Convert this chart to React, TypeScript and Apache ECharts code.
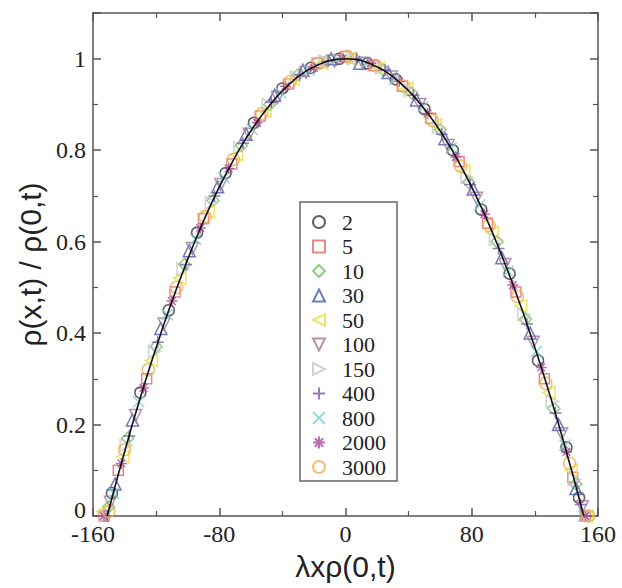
import React, { useEffect, useRef } from "react";
import * as echarts from "echarts";

// Fitted master curve (black line)
const curveX = [-151, -150, -145, -140, -135, -130, -125, -120, -115, -110, -105, -100, -95, -90, -85, -80, -75, -70, -65, -60, -55, -50, -45, -40, -35, -30, -25, -20, -15, -10, -5, 0, 5, 10, 15, 20, 25, 30, 35, 40, 45, 50, 55, 60, 65, 70, 75, 80, 85, 90, 95, 100, 105, 110, 115, 120, 125, 130, 135, 140, 145, 150, 151];
const curveY = [0, 0.013, 0.078, 0.14, 0.201, 0.259, 0.315, 0.368, 0.42, 0.469, 0.516, 0.561, 0.604, 0.645, 0.683, 0.719, 0.753, 0.785, 0.815, 0.842, 0.867, 0.89, 0.911, 0.93, 0.946, 0.961, 0.973, 0.982, 0.99, 0.996, 0.999, 1, 0.999, 0.996, 0.99, 0.982, 0.973, 0.961, 0.946, 0.93, 0.911, 0.89, 0.867, 0.842, 0.815, 0.785, 0.753, 0.719, 0.683, 0.645, 0.604, 0.561, 0.516, 0.469, 0.42, 0.368, 0.315, 0.259, 0.201, 0.14, 0.078, 0.013, 0];

const names = ["2", "5", "10", "30", "50", "100", "150", "400", "800", "2000", "3000"];

const x2 = [-148, -130, -112, -94, -76, -58, -40, -22, -4, 14, 32, 50, 68, 86, 104, 122, 140, 148];
const y2 = [0.05, 0.27, 0.45, 0.62, 0.75, 0.86, 0.935, 0.98, 1.0, 0.99, 0.955, 0.89, 0.8, 0.67, 0.53, 0.34, 0.15, 0.04];
const x5 = [-153, -144, -126, -108, -90, -72, -54, -36, -18, 0, 18, 36, 54, 72, 90, 108, 126, 144, 152];
const y5 = [0.0, 0.1, 0.3, 0.49, 0.65, 0.77, 0.875, 0.945, 0.99, 1.005, 0.985, 0.94, 0.87, 0.775, 0.64, 0.49, 0.3, 0.085, 0.0];
const x10 = [-150, -138, -120, -102, -84, -66, -48, -30, -12, 6, 24, 42, 60, 78, 96, 114, 132, 146];
const y10 = [0.02, 0.17, 0.37, 0.55, 0.69, 0.81, 0.9, 0.965, 0.995, 1.0, 0.975, 0.925, 0.845, 0.73, 0.6, 0.43, 0.235, 0.07];
const x30 = [-146, -135, -117, -99, -81, -63, -45, -27, -9, 9, 27, 45, 63, 81, 99, 117, 135, 146];
const y30 = [0.07, 0.21, 0.41, 0.58, 0.72, 0.835, 0.92, 0.975, 1.0, 0.99, 0.97, 0.91, 0.825, 0.715, 0.565, 0.4, 0.2, 0.06];
const x50 = [-154, -141, -123, -105, -87, -69, -51, -33, -15, 3, 21, 39, 57, 75, 93, 111, 129, 143, 153];
const y50 = [0.01, 0.13, 0.34, 0.52, 0.665, 0.79, 0.885, 0.955, 0.99, 1.0, 0.98, 0.935, 0.855, 0.755, 0.62, 0.46, 0.27, 0.1, 0.0];
const x100 = [-149, -133, -115, -97, -79, -61, -43, -25, -7, 11, 29, 47, 65, 83, 101, 119, 137, 150];
const y100 = [0.03, 0.22, 0.42, 0.585, 0.725, 0.835, 0.915, 0.97, 0.995, 0.99, 0.96, 0.9, 0.81, 0.695, 0.55, 0.38, 0.18, 0.02];
const x150 = [-152, -139, -121, -103, -85, -67, -49, -31, -13, 5, 23, 41, 59, 77, 95, 113, 131, 145];
const y150 = [0.0, 0.155, 0.36, 0.54, 0.685, 0.805, 0.9, 0.96, 0.995, 1.0, 0.98, 0.93, 0.85, 0.74, 0.605, 0.44, 0.25, 0.08];
const x400 = [-151, -137, -119, -101, -83, -65, -47, -29, -11, 7, 25, 43, 61, 79, 97, 115, 133, 149];
const y400 = [0.0, 0.175, 0.38, 0.55, 0.7, 0.815, 0.905, 0.965, 0.995, 1.0, 0.975, 0.92, 0.835, 0.725, 0.585, 0.42, 0.225, 0.025];
const x800 = [-147, -131, -113, -95, -77, -59, -41, -23, -5, 13, 31, 49, 67, 85, 103, 121, 139, 151];
const y800 = [0.05, 0.25, 0.44, 0.605, 0.74, 0.845, 0.925, 0.975, 1.0, 0.99, 0.955, 0.895, 0.805, 0.68, 0.535, 0.36, 0.155, 0.0];
const x2000 = [-153, -142, -128, -110, -92, -74, -56, -38, -20, -2, 16, 34, 52, 70, 88, 106, 124, 140, 152];
const y2000 = [0.0, 0.115, 0.28, 0.47, 0.63, 0.76, 0.86, 0.94, 0.98, 1.0, 0.99, 0.95, 0.88, 0.785, 0.66, 0.505, 0.325, 0.14, 0.0];
const x3000 = [-150, -140, -125, -107, -89, -71, -53, -35, -17, 1, 19, 37, 55, 73, 91, 109, 127, 142, 154];
const y3000 = [0.01, 0.145, 0.32, 0.5, 0.655, 0.78, 0.88, 0.95, 0.99, 1.005, 0.985, 0.94, 0.865, 0.765, 0.635, 0.48, 0.29, 0.115, 0.0];

const seriesX = [x2, x5, x10, x30, x50, x100, x150, x400, x800, x2000, x3000];
const seriesY = [y2, y5, y10, y30, y50, y100, y150, y400, y800, y2000, y3000];

const colors = ["#3a3a3a", "#e06a6a", "#6cc45a", "#4a58b0", "#e6e040", "#a07890", "#c4c4cc", "#7a5aa8", "#7cd0d4", "#a84a98", "#f0b050"];
const symbols = [
  "circle",
  "rect",
  "diamond",
  "triangle",
  "path://M0,5L10,0L10,10Z",
  "path://M0,0L10,0L5,10Z",
  "path://M0,0L10,5L0,10Z",
  "path://M5,0L5,10M0,5L10,5",
  "path://M1,1L9,9M9,1L1,9",
  "path://M5,0L5,10M0,5L10,5M1.5,1.5L8.5,8.5M8.5,1.5L1.5,8.5",
  "circle",
];
const sizes = [11, 10, 12, 12, 12, 12, 12, 12, 11, 11, 12];

const SERIF = "'Liberation Serif', 'DejaVu Serif', 'Times New Roman', serif";
const SANS = "'Liberation Sans', Arial, sans-serif";

export default function App() {
  const ref = useRef<HTMLDivElement>(null);
  useEffect(() => {
    if (!ref.current) return;
    const chart = echarts.init(ref.current, undefined, { renderer: "svg" });
    const axisLineStyle = { color: "#555", width: 1.5 };
    const tickFont = { fontFamily: SERIF, fontSize: 24, color: "#222" };
    const mkX = (pos: string, show: boolean) => ({
      type: "value",
      min: -160,
      max: 160,
      interval: 80,
      position: pos,
      axisLine: { show: true, onZero: false, lineStyle: axisLineStyle },
      axisTick: { show: true, inside: true, length: 8, lineStyle: axisLineStyle },
      minorTick: { show: true, splitNumber: 2, length: 5, lineStyle: { color: "#555", width: 1.2 } },
      axisLabel: { show, margin: 6, ...tickFont },
      splitLine: { show: false },
      minorSplitLine: { show: false },
      ...(show
        ? {
            name: "λxρ(0,t)",
            nameLocation: "middle",
            nameGap: 35,
            nameTextStyle: { fontFamily: SANS, fontSize: 30, color: "#222" },
          }
        : {}),
    });
    const mkY = (pos: string, show: boolean) => ({
      type: "value",
      min: 0,
      max: 1.1,
      interval: 0.2,
      position: pos,
      axisLine: { show: true, onZero: false, lineStyle: axisLineStyle },
      axisTick: { show: true, inside: true, length: 8, lineStyle: axisLineStyle },
      minorTick: { show: true, splitNumber: 2, length: 5, lineStyle: { color: "#555", width: 1.2 } },
      axisLabel: {
        show,
        margin: 7,
        ...tickFont,
        formatter: (v: number) => (v > 1.05 ? "" : v === 0 ? "{z|0}" : String(Math.round(v * 10) / 10)),
        rich: { z: { ...tickFont, padding: [0, 0, 12, 0] } },
      },
      splitLine: { show: false },
      minorSplitLine: { show: false },
      ...(show
        ? {
            name: "ρ(x,t) / ρ(0,t)",
            nameLocation: "middle",
            nameGap: 48,
            nameTextStyle: { fontFamily: SANS, fontSize: 30, color: "#222" },
          }
        : {}),
    });

    const scatter = names.map((n, i) => ({
      name: n,
      type: "scatter",
      symbol: symbols[i],
      symbolSize: sizes[i],
      xAxisIndex: 0,
      yAxisIndex: 0,
      itemStyle: { color: "rgba(0,0,0,0)", borderColor: colors[i], borderWidth: 1.5 },
      data: seriesX[i].map((x, k) => [x, seriesY[i][k]]),
      z: 2,
    }));

    chart.setOption({
      animation: false,
      backgroundColor: "#fff",
      grid: { left: 93, right: 24, top: 13, bottom: 72, containLabel: false },
      xAxis: [mkX("bottom", true), mkX("top", false)],
      yAxis: [mkY("left", true), mkY("right", false)],
      legend: {
        data: names,
        orient: "vertical",
        left: 300,
        top: 202,
        itemWidth: 12,
        itemHeight: 12,
        itemGap: 2.5,
        padding: [9, 11, 3, 12],
        borderColor: "#666",
        borderWidth: 1.5,
        backgroundColor: "#fff",
        textStyle: { fontFamily: SERIF, fontSize: 22, color: "#222", lineHeight: 22, padding: [0, 0, 0, 12] },
      },
      series: [
        ...scatter,
        {
          name: "fit",
          type: "line",
          data: curveX.map((x, k) => [x, curveY[k]]),
          smooth: true,
          symbol: "none",
          lineStyle: { color: "#111", width: 1.6 },
          z: 5,
        },
      ],
    });
    return () => chart.dispose();
  }, []);
  return <div ref={ref} style={{ position: "absolute", left: 0, top: 0, width: 622, height: 588 }} />;
}
